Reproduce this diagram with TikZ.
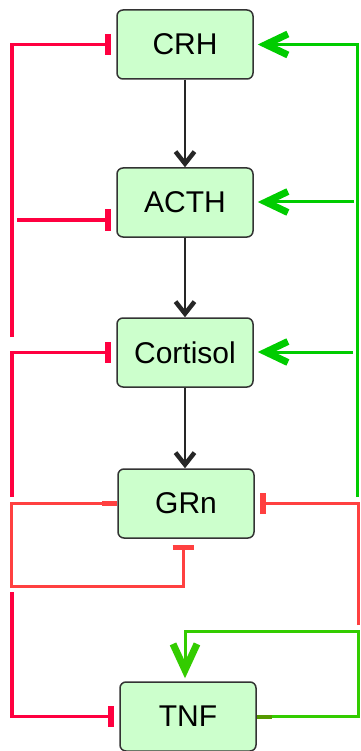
\documentclass[tikz,border=0pt]{standalone}
\usepackage{fontspec}
\setmainfont{Liberation Sans}
\usetikzlibrary{arrows.meta}
\definecolor{boxfill}{HTML}{CCFFCC}
\definecolor{crim}{HTML}{FF0040}
\definecolor{lred}{HTML}{FF4040}
\definecolor{grn}{HTML}{00CC00}
\definecolor{grn2}{HTML}{33CC00}
\definecolor{olive}{HTML}{559900}
\begin{document}
\begin{tikzpicture}[x=1pt,y=-1pt,
  box/.style={draw=black!80, line width=1.5pt, fill=boxfill, rounded corners=6pt,
    minimum width=136pt, minimum height=69pt, inner sep=0pt,
    font=\fontsize{30}{32}\selectfont},
  act/.style={-{Straight Barb[length=22pt,width=21pt,line width=7pt 0,sharp]}, line width=3pt},
  inh/.style={-{Bar[width=21pt,line width=6pt]}, line width=3.2pt},
  blk/.style={-{Straight Barb[length=12pt,width=19pt,line width=4.5pt 0,sharp]}, line width=1.5pt, draw=black!85}]
\useasboundingbox (0,0) rectangle (360,751);
\node[box] (CRH) at (185,44.5) {CRH};
\node[box] (ACTH) at (185,202.5) {ACTH};
\node[box] (Cortisol) at (185,352.5) {Cortisol};
\node[box] (GRn) at (186,503.5) {GRn};
\node[box] (TNF) at (188,716.5) {TNF};
% black activations
\draw[blk] (CRH) -- (ACTH);
\draw[blk] (ACTH) -- (Cortisol);
\draw[blk] (Cortisol.south -| 185,0) -- (GRn.north -| 185,0);
% crimson inhibitions on the left
\coordinate (L1) at (12,337);
\coordinate (L2) at (12,497);
\coordinate (L3) at (17,220);
\coordinate (L4) at (12,592);
\draw[inh,crim,shorten >=5pt] (L1) |- (CRH.west);
\draw[inh,crim,shorten >=5pt] (L3) -- (L3 -| ACTH.west);
\draw[inh,crim,shorten >=5pt] (L2) |- (Cortisol.west);
\draw[inh,crim,shorten >=5pt] (L4) |- (TNF.west);
% GRn self loop
\coordinate (G1) at (11,586);
\draw[{Rectangle[length=15pt,width=5pt]}-{Bar[width=21pt,line width=5pt]}, line width=3pt, lred, shorten >=6pt]
  (GRn.west) -| (G1) -| ([xshift=-3pt]GRn.south);
% right red inhibition
\coordinate (R1) at (358,625);
\draw[inh,lred,line width=3pt,shorten >=5pt] (R1) |- (GRn.east);
% green activations on the right
\coordinate (Gr1) at (357,497);
\coordinate (Gr2) at (354,202);
\coordinate (Gr3) at (353,352);
\draw[act,grn,shorten >=4pt] (Gr1) |- (CRH.east);
\draw[act,grn,shorten >=4pt] (Gr2) -- (Gr2 -| ACTH.east);
\draw[act,grn,shorten >=4pt] (Gr3) -- (Gr3 -| Cortisol.east);
% TNF loop
\coordinate (T1) at (358,631);
\draw[{Rectangle[length=15pt,width=4pt,color=olive]}-{Straight Barb[length=26pt,width=24pt,line width=7pt 0,sharp]}, line width=3pt, grn2, shorten >=3pt]
  (TNF.east) -| (T1) -| ([xshift=-3pt]TNF.north);
\end{tikzpicture}
\end{document}
